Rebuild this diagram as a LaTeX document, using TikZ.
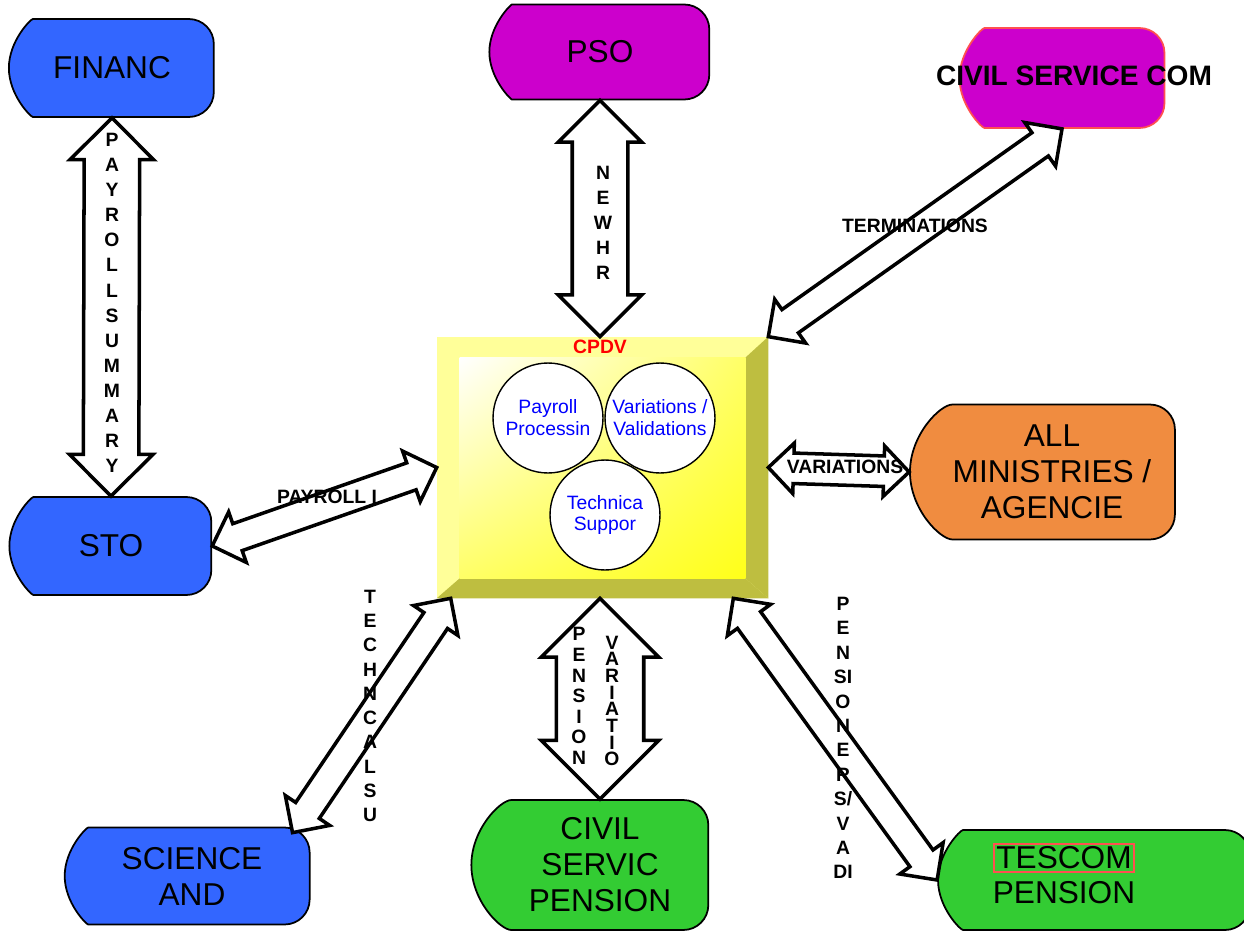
\documentclass[tikz,border=0pt]{standalone}
\usepackage{fontspec}
\setmainfont{Liberation Sans}
\usetikzlibrary{positioning,calc,shapes.misc,shapes.arrows,shadings}

\definecolor{finblue}{RGB}{51,102,255}
\definecolor{psomag}{RGB}{204,0,204}
\definecolor{cscred}{RGB}{255,80,80}
\definecolor{minorange}{RGB}{240,140,64}
\definecolor{pengreen}{RGB}{51,204,51}
\definecolor{boxlight}{RGB}{255,255,153}
\definecolor{boxdark}{RGB}{190,190,64}

\tikzset{
  office/.style={rounded rectangle, rounded rectangle east arc=none, rounded corners=0.5cm,
    draw=black, line width=1pt, align=center, inner sep=0pt, font=\fontsize{18}{20.5}\selectfont},
  flow/.style={double arrow, draw=black, fill=white, line width=2pt, inner sep=0pt,
    minimum width=0pt, text height=0.5cm, text depth=0pt, double arrow head extend=0.25cm},
  wideflow/.style={flow, text height=1.04cm, double arrow head extend=0.28cm},
  flowtext/.style={align=center, font=\bfseries\fontsize{11}{11}\selectfont},
  stacked/.style={align=center, inner sep=0pt, font=\bfseries\fontsize{11}{#1}\selectfont},
  task/.style={circle, draw=black, fill=white, line width=0.8pt, minimum size=2.2cm, inner sep=0pt,
    align=center, text=blue, font=\fontsize{11}{12.5}\selectfont},
}

% fat double arrow from one point to another
\newcommand\flowlink[3][]{%
  \path let \p1=(#2), \p2=(#3), \n1={atan2(\y2-\y1,\x2-\x1)}, \n2={veclen(\x2-\x1,\y2-\y1)} in
    node[flow, #1, minimum height=\n2, rotate=\n1] at ($(#2)!0.5!(#3)$) {};}

\begin{document}
\begin{tikzpicture}[x=0.02cm, y=-0.02cm]
  \useasboundingbox (0,0) rectangle (1244,946);

  % offices
  \node[office, fill=finblue, minimum width=4.1cm, minimum height=1.96cm] (finance) at (112,68) {FINANC};
  \node[office, fill=psomag, minimum width=4.4cm, minimum height=1.9cm] (pso) at (600,52) {PSO};
  \node[office, fill=psomag, draw=cscred, minimum width=4.1cm, minimum height=2cm] (csc) at (1062,78) {};
  \node[font=\bfseries\fontsize{16}{16}\selectfont] (csctext) at (1074,76) {CIVIL SERVICE COM};
  \node[office, fill=finblue, minimum width=4.04cm, minimum height=1.96cm] (sto) at (111,546) {STO};
  \node[office, fill=minorange, minimum width=5.3cm, minimum height=2.7cm] (ministries) at (1052,472) {ALL\\MINISTRIES /\\AGENCIE};
  \node[office, fill=finblue, minimum width=4.9cm, minimum height=1.94cm] (science) at (192,876) {SCIENCE\\AND};
  \node[office, fill=pengreen, minimum width=4.74cm, minimum height=2.6cm] (civpen) at (600,865) {CIVIL\\SERVIC\\PENSION};
  \node[office, fill=pengreen, minimum width=6.24cm, minimum height=2cm] (tescom) at (1094,880) {};
  \node[draw=cscred, line width=1pt, inner sep=1.5pt, font=\fontsize{18}{18}\selectfont] (tescomword) at (1064,858) {TESCOM};
  \node[inner sep=1pt, font=\fontsize{18}{18}\selectfont, below=4pt of tescomword] (tescompen) {PENSION};

  % CPDV box
  \node[fill=boxlight, minimum width=6.62cm, minimum height=5.22cm, inner sep=0pt] (cpdv) at (602.5,467.5) {};
  \fill[boxdark] (cpdv.north east) -- (cpdv.south east) -- ($(cpdv.south east)+(-23,-20)$) -- ($(cpdv.north east)+(-23,21)$) -- cycle;
  \fill[boxdark] (cpdv.south west) -- (cpdv.south east) -- ($(cpdv.south east)+(-23,-20)$) -- ($(cpdv.south west)+(23,-20)$) -- cycle;
  \shade[upper left=white, upper right=yellow!60, lower left=yellow!60, lower right=yellow!90]
    ($(cpdv.north west)+(23,21)$) rectangle ($(cpdv.south east)+(-23,-20)$);
  \node[text=red, font=\bfseries\fontsize{11}{11}\selectfont] (cpdvname) at (600,347) {CPDV};
  \node[task] (payroll) at (548,418) {Payroll\\Processin};
  \node[task] (valid) at (660,418) {Variations /\\Validations};
  \node[task] (support) at (605,515) {Technica\\Suppor};

  % connector ends
  \coordinate (psoin) at (pso.south |- cpdv.north);
  \coordinate (sciin) at ($(cpdv.south west)+(14,0)$);
  \coordinate (sciout) at ($(science.north east)+(-18,6)$);
  \coordinate (civin) at (civpen.north |- cpdv.south);
  \coordinate (tesin) at ($(cpdv.south east)+(-35,0)$);

  % flows
  \flowlink[wideflow]{finance.south}{sto.north}
  \flowlink[wideflow]{pso.south}{psoin}
  \flowlink{csc.south}{cpdv.north east}
  \flowlink{sto.east}{cpdv.west}
  \flowlink[text height=0.54cm, double arrow head extend=0.2cm]{cpdv.east}{ministries.west}
  \flowlink{sciout}{sciin}
  \flowlink[text height=1.68cm, double arrow head extend=0.3cm]{civin}{civpen.north}
  \flowlink{tesin}{tescom.west}

  % flow labels
  \node[stacked=14.3] (sumlabel) at (112,303) {P\\A\\Y\\R\\O\\L\\L\\S\\U\\M\\M\\A\\R\\Y};
  \node[stacked=14.2] (hrlabel) at (603,223) {N\\E\\W\\H\\R};
  \node[flowtext] (termlabel) at (915,226) {TERMINATIONS};
  \node[flowtext] (paylabel) at (327,497) {PAYROLL I};
  \node[flowtext] (varlabel) at (845,467) {VARIATIONS};
  \node[stacked=13.8] (techlabel) at (370,706) {T\\E\\C\\H\\N\\C\\A\\L\\S\\U};
  \node[stacked=11.7] (penlabel) at (579,696) {P\\E\\N\\S\\I\\O\\N};
  \node[stacked=9.5] (varilabel) at (612,701) {V\\A\\R\\I\\A\\T\\I\\O};
  \node[stacked=13.9] (pnrlabel) at (843,738) {P\\E\\N\\SI\\O\\N\\E\\R\\S/\\V\\A\\DI};
\end{tikzpicture}
\end{document}
